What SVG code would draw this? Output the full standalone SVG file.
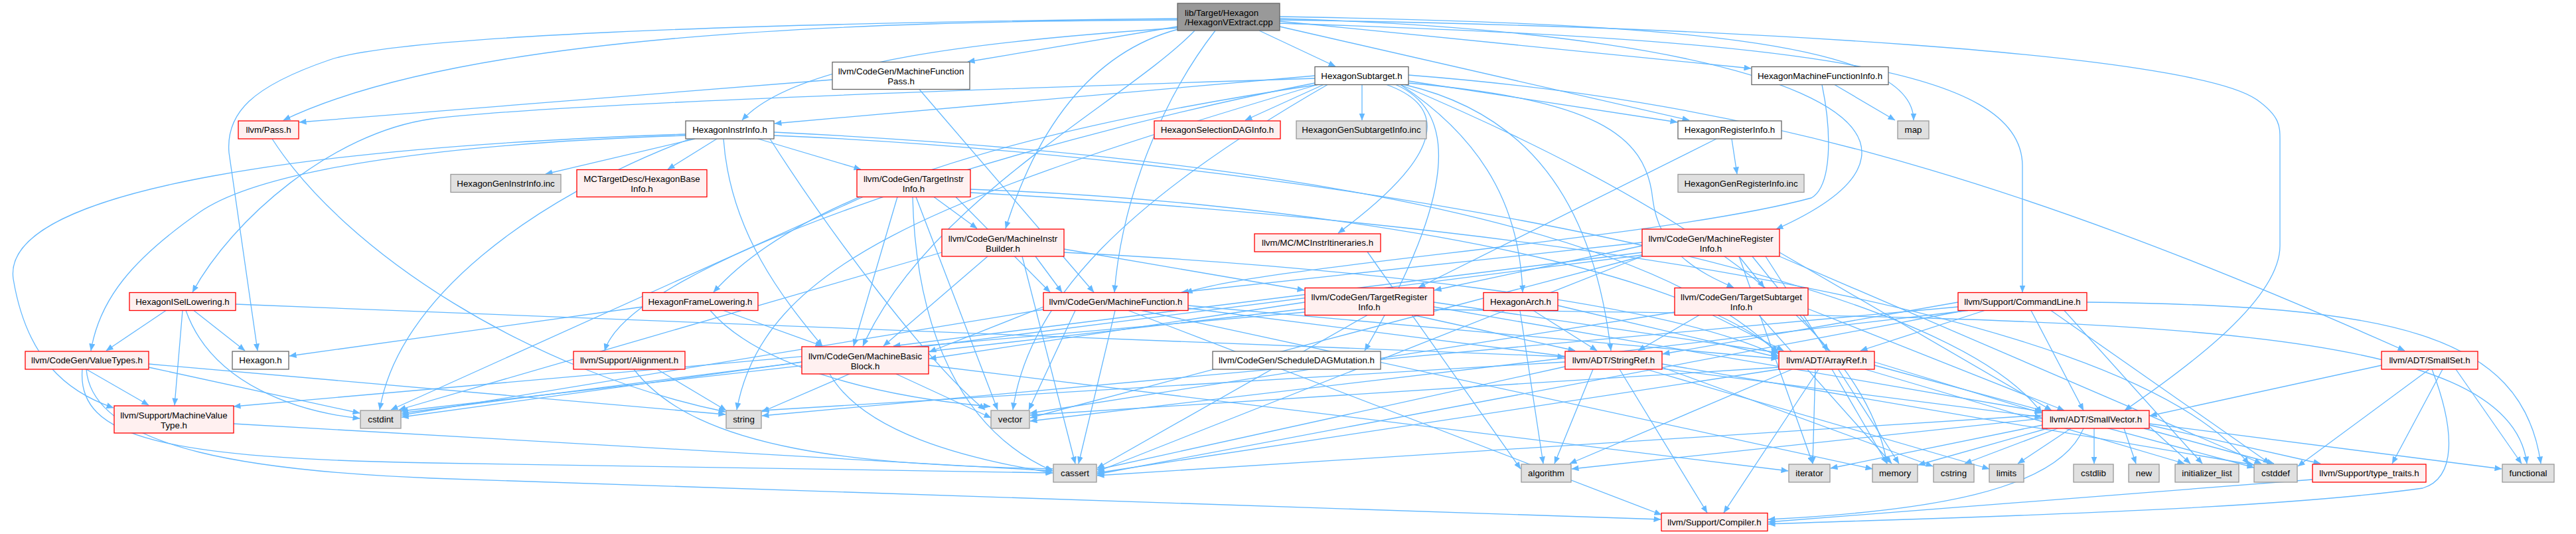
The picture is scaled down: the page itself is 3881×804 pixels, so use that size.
<svg xmlns="http://www.w3.org/2000/svg" width="3881" height="804" viewBox="0 0 3881 804">
<style>
text{font-family:"Liberation Sans",Arial,sans-serif;font-size:13.33px;fill:#000}
.n text{text-anchor:middle}
.root rect{fill:#999999;stroke:#666666;stroke-width:1.3}
.w rect{fill:#ffffff;stroke:#666666;stroke-width:1.3}
.r rect{fill:#fff0f0;stroke:#ff0000;stroke-width:1.3}
.g rect{fill:#e0e0e0;stroke:#999999;stroke-width:1.3}
#edges path{fill:none;stroke:#63b8ff;stroke-width:1.3;marker-end:url(#ah)}
</style>
<defs>
<marker id="ah" markerWidth="11" markerHeight="9" refX="10.5" refY="4.5" orient="auto" markerUnits="userSpaceOnUse">
<path d="M0,0 L11,4.5 L0,9 z" fill="#63b8ff"/>
</marker>
</defs>
<rect width="3881" height="804" fill="#ffffff"/>
<g id="edges">
<path d="M1897,46 L2012,100"/>
<path d="M1774,40 L1458,93"/>
<path d="M1928,32 L2638,103"/>
<path d="M1774,30 C1300,32 700,50 427,181"/>
<path d="M1774,42 C1500,60 1200,90 1118,181"/>
<path d="M1928,40 L2545,181"/>
<path d="M1928,25 C2500,35 2883,60 2883,181"/>
<path d="M1775,44 C1640,80 1560,200 1515,344"/>
<path d="M1928,28 C2700,50 3000,200 2676,345"/>
<path d="M1831,46 C1750,150 1690,300 1679,440"/>
<path d="M1928,35 C2700,60 3047,100 3047,250 L3047,440"/>
<path d="M1928,30 C2600,40 3300,80 3400,150 C3435,175 3435,190 3435,210 L3435,370 C3435,450 3300,550 3201,618"/>
<path d="M1800,46 C1700,150 1400,300 1300,521"/>
<path d="M1774,28 C1100,35 600,55 497,90 C380,130 340,170 345,230 L388,528"/>
<path d="M1981,114 L1167,186"/>
<path d="M1995,127 L1876,181"/>
<path d="M2052,127.5 L2052,181"/>
<path d="M2122,122 L2527,184"/>
<path d="M2089,127.5 C2180,160 2180,230 2016,351"/>
<path d="M1981,118 C1300,140 800,160 650,179 C500,200 350,330 290,440"/>
<path d="M1985,127.5 C1500,200 1200,300 1075,440"/>
<path d="M2122,125 C2400,150 2480,200 2490,300 C2500,380 2560,410 2612,433"/>
<path d="M2122,113 C2600,150 3000,250 3623,528"/>
<path d="M2116,127.5 C2300,170 2400,300 2427,528"/>
<path d="M2103,127.5 C2200,170 2190,300 2056,528"/>
<path d="M1981,125 C1500,220 950,400 911,528"/>
<path d="M2110,127.5 C2400,250 2800,450 2843,698"/>
<path d="M1985,127.5 C1400,300 1150,400 1110,617"/>
<path d="M2000,127.5 C1700,300 1550,450 1526,617"/>
<path d="M2110,127.5 C2250,220 2290,330 2294,440"/>
<path d="M1254,120 L451,184"/>
<path d="M1385,134.5 L1648,440"/>
<path d="M2764,127.5 L2855,181"/>
<path d="M2745,127.5 C2760,200 2760,280 2729,298 C2500,360 1900,400 1786,441"/>
<path d="M1047,209 L822,262"/>
<path d="M1080,209 L1006,255"/>
<path d="M1142,209 L1297,255"/>
<path d="M1033,204 C700,215 400,250 300,320 C200,390 150,450 137,528"/>
<path d="M1033,202 C500,220 0,280 20,420 C40,540 100,590 171,614"/>
<path d="M1040,209 C800,300 600,450 572,617"/>
<path d="M1160,209 C1250,350 1400,550 1484,617"/>
<path d="M1090,209 C1100,350 1180,450 1239,521"/>
<path d="M1166,199 C1700,225 2450,300 2679,533"/>
<path d="M1166,204 C1800,230 2900,380 3076,622"/>
<path d="M1407,296.5 L1472,344"/>
<path d="M1352,296.5 L1286,521"/>
<path d="M1440,296.5 L1582,440"/>
<path d="M1462,285 C1900,300 2500,380 2679,530"/>
<path d="M1375,296.5 C1380,500 1450,650 1586,709"/>
<path d="M1462,290 C2200,330 3200,450 3388,699"/>
<path d="M1300,296.5 L589,617"/>
<path d="M1380,296.5 L1503,617"/>
<path d="M1488,386 L1331,521"/>
<path d="M1560,386 L1600,440"/>
<path d="M1603,375 L1965,437"/>
<path d="M1603,380 C2000,400 2500,450 2679,536"/>
<path d="M1540,386 L1620,698"/>
<path d="M1419,380 L601,617"/>
<path d="M2474,370 L2161,437"/>
<path d="M2620,386 L2658,433"/>
<path d="M2640,386 L2755,528"/>
<path d="M2681,380 L3091,618"/>
<path d="M2474,380 L1346,521"/>
<path d="M2474,365 L1780,440"/>
<path d="M2474,386 L1653,710"/>
<path d="M2681,386 L3407,698"/>
<path d="M2474,384 L605,622"/>
<path d="M2620,386 L2731,698"/>
<path d="M2660,386 L2861,698"/>
<path d="M2474,386 L1552,629"/>
<path d="M1572,462 L1400,530"/>
<path d="M1790,460 L2679,540"/>
<path d="M1790,464 L3076,628"/>
<path d="M1700,467.5 L2503,775"/>
<path d="M1680,467.5 L1625,698"/>
<path d="M1572,466 L605,625"/>
<path d="M1720,467.5 L2821,706"/>
<path d="M1620,467.5 L1550,617"/>
<path d="M1250,563 C1300,650 1450,690 1586,712"/>
<path d="M1208,545 L605,628"/>
<path d="M1399,550 L2694,709"/>
<path d="M1280,563 L1148,620"/>
<path d="M1350,563 L1493,629"/>
<path d="M2160,455 L2679,531"/>
<path d="M2160,462 L3076,620"/>
<path d="M2130,474.5 L2373,528"/>
<path d="M1966,455 L1400,540"/>
<path d="M1966,470 L352,612"/>
<path d="M2060,474.5 L1653,705"/>
<path d="M1966,465 L604,619"/>
<path d="M2160,466 C3200,480 3780,480 3807,698"/>
<path d="M2580,474.5 L2687,528"/>
<path d="M2724,465 L3110,618"/>
<path d="M2560,474.5 L2468,528"/>
<path d="M2650,474.5 L2850,698"/>
<path d="M2523,470 L1552,622"/>
<path d="M2990,467.5 L2803,528"/>
<path d="M3060,467.5 L3139,618"/>
<path d="M2950,455 L2505,533"/>
<path d="M2960,467.5 L1653,714"/>
<path d="M3090,467.5 L3420,698"/>
<path d="M3144,455 C3600,460 3800,500 3828,698"/>
<path d="M3110,467.5 L3318,698"/>
<path d="M2950,462 L1148,626"/>
<path d="M2965,467.5 L1552,634"/>
<path d="M250,467.5 L160,528"/>
<path d="M292,467.5 L369,528"/>
<path d="M275,467.5 L263,610"/>
<path d="M280,467.5 C320,580 450,620 542,630"/>
<path d="M355,458 L2357,537"/>
<path d="M968,462 L436,536"/>
<path d="M1090,467.5 L1239,521"/>
<path d="M1070,467.5 C1150,560 1350,600 1492,612"/>
<path d="M2290,467.5 L2325,698"/>
<path d="M2310,467.5 L2406,528"/>
<path d="M2347,460 L2679,538"/>
<path d="M130,556 L224,610"/>
<path d="M224,553 L542,622"/>
<path d="M224,548 L1093,624"/>
<path d="M124,556 C115,660 250,690 650,697 L1586,712"/>
<path d="M130,556 C140,680 400,710 650,720 L2502,782"/>
<path d="M352,638 L1586,709"/>
<path d="M990,556 L1094,618"/>
<path d="M955,556 C1050,680 1300,700 1586,706"/>
<path d="M410,209 C520,380 800,560 1093,620"/>
<path d="M2400,556 L2342,698"/>
<path d="M2440,556 L2572,772"/>
<path d="M2358,552 L1653,707"/>
<path d="M2504,548 L3396,700"/>
<path d="M2504,553 L2912,702"/>
<path d="M2480,556 L2997,706"/>
<path d="M2358,545 L1148,618"/>
<path d="M2824,545 L3076,622"/>
<path d="M2740,556 L2597,772"/>
<path d="M2700,556 L2365,698"/>
<path d="M2680,556 L1653,712"/>
<path d="M2824,550 L3396,704"/>
<path d="M2810,556 L3291,698"/>
<path d="M2735,556 L2731,698"/>
<path d="M2760,556 L2843,698"/>
<path d="M2680,553 L1552,625"/>
<path d="M3139,645 C3100,740 2900,770 2664,782"/>
<path d="M3238,640 L3496,698"/>
<path d="M3077,630 L2368,706"/>
<path d="M3077,625 L1653,716"/>
<path d="M3230,645 L3426,698"/>
<path d="M3155,645 L3155,698"/>
<path d="M3100,645 L2960,698"/>
<path d="M3238,638 L3769,706"/>
<path d="M3238,642 L3300,698"/>
<path d="M3077,640 L2758,705"/>
<path d="M3120,645 L3040,698"/>
<path d="M3085,645 L2890,700"/>
<path d="M3200,645 L3218,698"/>
<path d="M3588,550 L3239,626"/>
<path d="M3660,556 L3462,702"/>
<path d="M3680,556 L3604,698"/>
<path d="M3700,556 L3799,698"/>
<path d="M3664,556 C3700,650 3700,720 3650,735 C3400,770 2900,780 2664,789"/>
<path d="M3484,722 L2664,786"/>
<path d="M2060,379 L2291,706"/>
<path d="M2609,209 L2617,262"/>
<path d="M2586,209 L2137,433"/>
</g>
<g id="root" class="root"><rect x="1774" y="5" width="154" height="41"/><text x="1785" y="23.7">lib/Target/Hexagon</text><text x="1785" y="38">/HexagonVExtract.cpp</text></g>
<g id="pass" class="n r"><rect x="359" y="182" width="91" height="27"/><text x="404.5" y="200.3">llvm/Pass.h</text></g>
<g id="mfp" class="n w"><rect x="1254" y="93.5" width="207" height="41"/><text x="1357.5" y="112">llvm/CodeGen/MachineFunction</text><text x="1357.5" y="127">Pass.h</text></g>
<g id="subtarget" class="n w"><rect x="1981" y="100.5" width="141" height="27"/><text x="2051.5" y="118.8">HexagonSubtarget.h</text></g>
<g id="mfi" class="n w"><rect x="2639" y="100.5" width="206" height="27"/><text x="2742" y="118.8">HexagonMachineFunctionInfo.h</text></g>
<g id="instrinfo" class="n w"><rect x="1033" y="182" width="133" height="27"/><text x="1099.5" y="200.3">HexagonInstrInfo.h</text></g>
<g id="sdag" class="n r"><rect x="1739" y="182" width="190" height="27"/><text x="1834" y="200.3">HexagonSelectionDAGInfo.h</text></g>
<g id="gensub" class="n g"><rect x="1953" y="182" width="196" height="27"/><text x="2051" y="200.3">HexagonGenSubtargetInfo.inc</text></g>
<g id="reginfo" class="n w"><rect x="2528" y="182" width="156" height="27"/><text x="2606" y="200.3">HexagonRegisterInfo.h</text></g>
<g id="map" class="n g"><rect x="2859" y="182" width="47" height="27"/><text x="2882.5" y="200.3">map</text></g>
<g id="geninstr" class="n g"><rect x="679" y="262.5" width="166" height="27"/><text x="762" y="280.8">HexagonGenInstrInfo.inc</text></g>
<g id="baseinfo" class="n r"><rect x="869" y="255.5" width="196" height="41"/><text x="967" y="274">MCTargetDesc/HexagonBase</text><text x="967" y="289">Info.h</text></g>
<g id="tii" class="n r"><rect x="1291" y="255.5" width="171" height="41"/><text x="1376.5" y="274">llvm/CodeGen/TargetInstr</text><text x="1376.5" y="289">Info.h</text></g>
<g id="genreg" class="n g"><rect x="2528" y="262.5" width="190" height="27"/><text x="2623" y="280.8">HexagonGenRegisterInfo.inc</text></g>
<g id="mib" class="n r"><rect x="1419" y="345" width="184" height="41"/><text x="1511" y="363.5">llvm/CodeGen/MachineInstr</text><text x="1511" y="378.5">Builder.h</text></g>
<g id="mcii" class="n r"><rect x="1890" y="352" width="190" height="27"/><text x="1985" y="370.3">llvm/MC/MCInstrItineraries.h</text></g>
<g id="mri" class="n r"><rect x="2474" y="345" width="207" height="41"/><text x="2577.5" y="363.5">llvm/CodeGen/MachineRegister</text><text x="2577.5" y="378.5">Info.h</text></g>
<g id="isel" class="n r"><rect x="195" y="440.5" width="160" height="27"/><text x="275" y="458.8">HexagonISelLowering.h</text></g>
<g id="frame" class="n r"><rect x="968" y="440.5" width="174" height="27"/><text x="1055" y="458.8">HexagonFrameLowering.h</text></g>
<g id="mf" class="n r"><rect x="1572" y="440.5" width="218" height="27"/><text x="1681" y="458.8">llvm/CodeGen/MachineFunction.h</text></g>
<g id="tri" class="n r"><rect x="1966" y="433.5" width="194" height="41"/><text x="2063" y="452">llvm/CodeGen/TargetRegister</text><text x="2063" y="467">Info.h</text></g>
<g id="arch" class="n r"><rect x="2235" y="440.5" width="112" height="27"/><text x="2291" y="458.8">HexagonArch.h</text></g>
<g id="tsi" class="n r"><rect x="2523" y="433.5" width="201" height="41"/><text x="2623.5" y="452">llvm/CodeGen/TargetSubtarget</text><text x="2623.5" y="467">Info.h</text></g>
<g id="cl" class="n r"><rect x="2950" y="440.5" width="194" height="27"/><text x="3047" y="458.8">llvm/Support/CommandLine.h</text></g>
<g id="vt" class="n r"><rect x="38" y="529" width="186" height="27"/><text x="131" y="547.3">llvm/CodeGen/ValueTypes.h</text></g>
<g id="hexagon" class="n w"><rect x="350" y="529" width="85" height="27"/><text x="392.5" y="547.3">Hexagon.h</text></g>
<g id="align" class="n r"><rect x="864" y="529" width="168" height="27"/><text x="948" y="547.3">llvm/Support/Alignment.h</text></g>
<g id="mbb" class="n r"><rect x="1208" y="522" width="191" height="41"/><text x="1303.5" y="540.5">llvm/CodeGen/MachineBasic</text><text x="1303.5" y="555.5">Block.h</text></g>
<g id="sdm" class="n w"><rect x="1827" y="529" width="253" height="27"/><text x="1953.5" y="547.3">llvm/CodeGen/ScheduleDAGMutation.h</text></g>
<g id="stringref" class="n r"><rect x="2358" y="529" width="146" height="27"/><text x="2431" y="547.3">llvm/ADT/StringRef.h</text></g>
<g id="arrayref" class="n r"><rect x="2680" y="529" width="144" height="27"/><text x="2752" y="547.3">llvm/ADT/ArrayRef.h</text></g>
<g id="smallset" class="n r"><rect x="3588" y="529" width="145" height="27"/><text x="3660.5" y="547.3">llvm/ADT/SmallSet.h</text></g>
<g id="mvt" class="n r"><rect x="172" y="611" width="180" height="41"/><text x="262" y="629.5">llvm/Support/MachineValue</text><text x="262" y="644.5">Type.h</text></g>
<g id="cstdint" class="n g"><rect x="543" y="618" width="61" height="27"/><text x="573.5" y="636.3">cstdint</text></g>
<g id="string" class="n g"><rect x="1094" y="618" width="53" height="27"/><text x="1120.5" y="636.3">string</text></g>
<g id="vector" class="n g"><rect x="1493" y="618" width="58" height="27"/><text x="1522" y="636.3">vector</text></g>
<g id="smallvector" class="n r"><rect x="3077" y="618" width="161" height="27"/><text x="3157.5" y="636.3">llvm/ADT/SmallVector.h</text></g>
<g id="cassert" class="n g"><rect x="1587" y="699" width="65" height="27"/><text x="1619.5" y="717.3">cassert</text></g>
<g id="algorithm" class="n g"><rect x="2292" y="699" width="75" height="27"/><text x="2329.5" y="717.3">algorithm</text></g>
<g id="iterator" class="n g"><rect x="2695" y="699" width="62" height="27"/><text x="2726" y="717.3">iterator</text></g>
<g id="memory" class="n g"><rect x="2821" y="699" width="68" height="27"/><text x="2855" y="717.3">memory</text></g>
<g id="cstring" class="n g"><rect x="2913" y="699" width="61" height="27"/><text x="2943.5" y="717.3">cstring</text></g>
<g id="limits" class="n g"><rect x="2997" y="699" width="52" height="27"/><text x="3023" y="717.3">limits</text></g>
<g id="cstdlib" class="n g"><rect x="3124" y="699" width="60" height="27"/><text x="3154" y="717.3">cstdlib</text></g>
<g id="new" class="n g"><rect x="3207" y="699" width="46" height="27"/><text x="3230" y="717.3">new</text></g>
<g id="initlist" class="n g"><rect x="3277" y="699" width="96" height="27"/><text x="3325" y="717.3">initializer_list</text></g>
<g id="cstddef" class="n g"><rect x="3396" y="699" width="65" height="27"/><text x="3428.5" y="717.3">cstddef</text></g>
<g id="typetraits" class="n r"><rect x="3484" y="699" width="171" height="27"/><text x="3569.5" y="717.3">llvm/Support/type_traits.h</text></g>
<g id="functional" class="n g"><rect x="3770" y="699" width="78" height="27"/><text x="3809" y="717.3">functional</text></g>
<g id="compiler" class="n r"><rect x="2503" y="772.5" width="160" height="27"/><text x="2583" y="790.8">llvm/Support/Compiler.h</text></g>
</svg>
